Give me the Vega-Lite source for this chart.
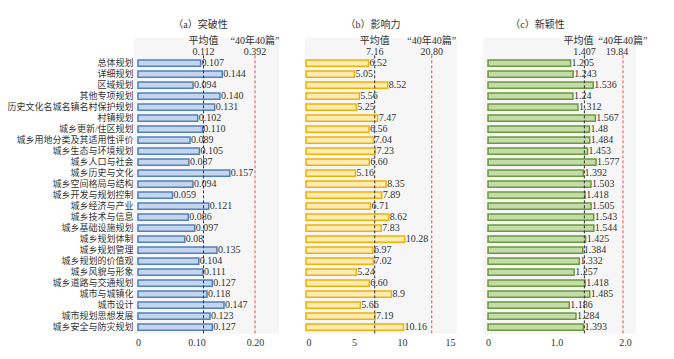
{
  "$schema": "https://vega.github.io/schema/vega-lite/v6.json",
  "background": "white",
  "padding": {"left": 6, "top": 20, "right": 5, "bottom": 5},
  "spacing": 26,
  "bounds": "flush",
  "config": {
    "view": {"stroke": null, "fill": "#f6f6f6"},
    "font": "Liberation Serif, Noto Sans CJK SC",
    "text": {"font": "Liberation Serif, Noto Sans CJK SC", "fontSize": 10, "color": "#333"},
    "axis": {"labelFont": "Liberation Serif, Noto Sans CJK SC", "labelColor": "#333", "ticks": false, "domain": false, "grid": false, "title": null, "labelOverlap": false},
    "title": {"font": "Liberation Serif, Noto Sans CJK SC", "fontSize": 10, "fontWeight": "normal", "color": "#333", "offset": 6}
  },
  "datasets": {
    "main": [
      {"cat": "总体规划", "a": 0.107, "la": "0.107", "b": 6.52, "lb": "6.52", "c": 1.205, "lc": "1.205"},
      {"cat": "详细规划", "a": 0.144, "la": "0.144", "b": 5.05, "lb": "5.05", "c": 1.243, "lc": "1.243"},
      {"cat": "区域规划", "a": 0.094, "la": "0.094", "b": 8.52, "lb": "8.52", "c": 1.536, "lc": "1.536"},
      {"cat": "其他专项规划", "a": 0.140, "la": "0.140", "b": 5.56, "lb": "5.56", "c": 1.24, "lc": "1.24"},
      {"cat": "历史文化名城名镇名村保护规划", "a": 0.131, "la": "0.131", "b": 5.25, "lb": "5.25", "c": 1.312, "lc": "1.312"},
      {"cat": "村镇规划", "a": 0.102, "la": "0.102", "b": 7.47, "lb": "7.47", "c": 1.567, "lc": "1.567"},
      {"cat": "城乡更新/住区规划", "a": 0.110, "la": "0.110", "b": 6.56, "lb": "6.56", "c": 1.48, "lc": "1.48"},
      {"cat": "城乡用地分类及其适用性评价", "a": 0.089, "la": "0.089", "b": 7.04, "lb": "7.04", "c": 1.484, "lc": "1.484"},
      {"cat": "城乡生态与环境规划", "a": 0.105, "la": "0.105", "b": 7.23, "lb": "7.23", "c": 1.453, "lc": "1.453"},
      {"cat": "城乡人口与社会", "a": 0.087, "la": "0.087", "b": 6.60, "lb": "6.60", "c": 1.577, "lc": "1.577"},
      {"cat": "城乡历史与文化", "a": 0.157, "la": "0.157", "b": 5.16, "lb": "5.16", "c": 1.392, "lc": "1.392"},
      {"cat": "城乡空间格局与结构", "a": 0.094, "la": "0.094", "b": 8.35, "lb": "8.35", "c": 1.503, "lc": "1.503"},
      {"cat": "城乡开发与规划控制", "a": 0.059, "la": "0.059", "b": 7.89, "lb": "7.89", "c": 1.418, "lc": "1.418"},
      {"cat": "城乡经济与产业", "a": 0.121, "la": "0.121", "b": 6.71, "lb": "6.71", "c": 1.505, "lc": "1.505"},
      {"cat": "城乡技术与信息", "a": 0.086, "la": "0.086", "b": 8.62, "lb": "8.62", "c": 1.543, "lc": "1.543"},
      {"cat": "城乡基础设施规划", "a": 0.097, "la": "0.097", "b": 7.83, "lb": "7.83", "c": 1.544, "lc": "1.544"},
      {"cat": "城乡规划体制", "a": 0.08, "la": "0.08", "b": 10.28, "lb": "10.28", "c": 1.425, "lc": "1.425"},
      {"cat": "城乡规划管理", "a": 0.135, "la": "0.135", "b": 6.97, "lb": "6.97", "c": 1.384, "lc": "1.384"},
      {"cat": "城乡规划的价值观", "a": 0.104, "la": "0.104", "b": 7.02, "lb": "7.02", "c": 1.332, "lc": "1.332"},
      {"cat": "城乡风貌与形象", "a": 0.111, "la": "0.111", "b": 5.24, "lb": "5.24", "c": 1.257, "lc": "1.257"},
      {"cat": "城乡道路与交通规划", "a": 0.127, "la": "0.127", "b": 6.60, "lb": "6.60", "c": 1.418, "lc": "1.418"},
      {"cat": "城市与城镇化", "a": 0.118, "la": "0.118", "b": 8.9, "lb": "8.9", "c": 1.485, "lc": "1.485"},
      {"cat": "城市设计", "a": 0.147, "la": "0.147", "b": 5.66, "lb": "5.66", "c": 1.186, "lc": "1.186"},
      {"cat": "城市规划思想发展", "a": 0.123, "la": "0.123", "b": 7.19, "lb": "7.19", "c": 1.284, "lc": "1.284"},
      {"cat": "城乡安全与防灾规划", "a": 0.127, "la": "0.127", "b": 10.16, "lb": "10.16", "c": 1.393, "lc": "1.393"}
    ],
    "refs": [
      {"panel": "a", "mean": 0.112, "meanText": "0.112", "bestText": "0.392"},
      {"panel": "b", "mean": 7.16, "meanText": "7.16", "bestText": "20.80"},
      {"panel": "c", "mean": 1.407, "meanText": "1.407", "bestText": "19.84"}
    ]
  },
  "hconcat": [
    {
      "width": 145, "height": 296,
      "title": {"text": "（a）突破性", "dx": -6},
      "layer": [
        {
          "data": {"name": "main"},
          "mark": {"type": "bar", "fill": "#c7d5ec", "stroke": "#4f81bd", "strokeWidth": 1.5},
          "encoding": {
            "y": {"field": "cat", "type": "nominal", "sort": null,
              "scale": {"domain": ["h1", "h2", "总体规划","详细规划","区域规划","其他专项规划","历史文化名城名镇名村保护规划","村镇规划","城乡更新/住区规划","城乡用地分类及其适用性评价","城乡生态与环境规划","城乡人口与社会","城乡历史与文化","城乡空间格局与结构","城乡开发与规划控制","城乡经济与产业","城乡技术与信息","城乡基础设施规划","城乡规划体制","城乡规划管理","城乡规划的价值观","城乡风貌与形象","城乡道路与交通规划","城市与城镇化","城市设计","城市规划思想发展","城乡安全与防灾规划"], "paddingInner": 0.42, "paddingOuter": 0.17, "align": 0},
              "axis": {"labelFontSize": 9, "labelPadding": 1, "labelExpr": "datum.value == 'h1' || datum.value == 'h2' ? '' : datum.value"}},
            "x": {"field": "a", "type": "quantitative",
              "scale": {"domain": [-0.0068, 0.241], "nice": false, "zero": false},
              "axis": {"values": [0, 0.05, 0.1, 0.15, 0.2], "labelFontSize": 10, "labelPadding": 3, "labelExpr": "datum.value == 0 ? '0' : format(datum.value, '.2f')"}},
            "x2": {"datum": 0}
          }
        },
        {
          "data": {"name": "main"},
          "mark": {"type": "text", "align": "left", "baseline": "middle", "dx": 1},
          "encoding": {
            "y": {"field": "cat", "type": "nominal", "sort": null},
            "x": {"field": "a", "type": "quantitative"},
            "text": {"field": "la"}
          }
        },
        {
          "data": {"name": "refs"},
          "transform": [{"filter": "datum.panel == 'a'"}],
          "layer": [
            {"mark": {"type": "rule", "color": "#333", "strokeDash": [3, 2], "strokeWidth": 1},
             "encoding": {"x": {"field": "mean", "type": "quantitative"}, "y": {"datum": "h2", "bandPosition": 1}, "y2": {"value": "height"}}},
            {"mark": {"type": "rule", "color": "#d9534f", "strokeDash": [3, 2], "strokeWidth": 1},
             "encoding": {"x": {"datum": 0.2}, "y": {"datum": "h2", "bandPosition": 1}, "y2": {"value": "height"}}},
            {"mark": {"type": "text", "text": "平均值", "baseline": "middle"},
             "encoding": {"x": {"field": "mean", "type": "quantitative"}, "y": {"datum": "h1"}}},
            {"mark": {"type": "text", "baseline": "middle"},
             "encoding": {"x": {"field": "mean", "type": "quantitative"}, "y": {"datum": "h2"}, "text": {"field": "meanText"}}},
            {"mark": {"type": "text", "text": "“40年40篇”", "baseline": "middle"},
             "encoding": {"x": {"datum": 0.2}, "y": {"datum": "h1"}}},
            {"mark": {"type": "text", "baseline": "middle"},
             "encoding": {"x": {"datum": 0.2}, "y": {"datum": "h2"}, "text": {"field": "bestText"}}}
          ]
        }
      ]
    },
    {
      "width": 152, "height": 296,
      "title": {"text": "（b）影响力", "dx": -8},
      "layer": [
        {
          "data": {"name": "main"},
          "mark": {"type": "bar", "fill": "#fdebb5", "stroke": "#f0b100", "strokeWidth": 1.5},
          "encoding": {
            "y": {"field": "cat", "type": "nominal", "sort": null,
              "scale": {"domain": ["h1", "h2", "总体规划","详细规划","区域规划","其他专项规划","历史文化名城名镇名村保护规划","村镇规划","城乡更新/住区规划","城乡用地分类及其适用性评价","城乡生态与环境规划","城乡人口与社会","城乡历史与文化","城乡空间格局与结构","城乡开发与规划控制","城乡经济与产业","城乡技术与信息","城乡基础设施规划","城乡规划体制","城乡规划管理","城乡规划的价值观","城乡风貌与形象","城乡道路与交通规划","城市与城镇化","城市设计","城市规划思想发展","城乡安全与防灾规划"], "paddingInner": 0.42, "paddingOuter": 0.17, "align": 0},
              "axis": null},
            "x": {"field": "b", "type": "quantitative",
              "scale": {"domain": [-0.1, 15.73], "nice": false, "zero": false},
              "axis": {"values": [0, 5, 10, 15], "labelFontSize": 10, "labelPadding": 3}},
            "x2": {"datum": 0}
          }
        },
        {
          "data": {"name": "main"},
          "mark": {"type": "text", "align": "left", "baseline": "middle", "dx": 1},
          "encoding": {
            "y": {"field": "cat", "type": "nominal", "sort": null},
            "x": {"field": "b", "type": "quantitative"},
            "text": {"field": "lb"}
          }
        },
        {
          "data": {"name": "refs"},
          "transform": [{"filter": "datum.panel == 'b'"}],
          "layer": [
            {"mark": {"type": "rule", "color": "#333", "strokeDash": [3, 2], "strokeWidth": 1},
             "encoding": {"x": {"field": "mean", "type": "quantitative"}, "y": {"datum": "h2", "bandPosition": 1}, "y2": {"value": "height"}}},
            {"mark": {"type": "rule", "color": "#d9534f", "strokeDash": [3, 2], "strokeWidth": 1},
             "encoding": {"x": {"datum": 13.1}, "y": {"datum": "h2", "bandPosition": 1}, "y2": {"value": "height"}}},
            {"mark": {"type": "text", "text": "平均值", "baseline": "middle"},
             "encoding": {"x": {"field": "mean", "type": "quantitative"}, "y": {"datum": "h1"}}},
            {"mark": {"type": "text", "baseline": "middle"},
             "encoding": {"x": {"field": "mean", "type": "quantitative"}, "y": {"datum": "h2"}, "text": {"field": "meanText"}}},
            {"mark": {"type": "text", "text": "“40年40篇”", "baseline": "middle"},
             "encoding": {"x": {"datum": 13.1}, "y": {"datum": "h1"}}},
            {"mark": {"type": "text", "baseline": "middle"},
             "encoding": {"x": {"datum": 13.1}, "y": {"datum": "h2"}, "text": {"field": "bestText"}}}
          ]
        }
      ]
    },
    {
      "width": 153, "height": 296,
      "title": {"text": "（c）新颖性", "dx": -22},
      "layer": [
        {
          "data": {"name": "main"},
          "mark": {"type": "bar", "fill": "#c5dcaa", "stroke": "#6a9a3a", "strokeWidth": 1.5},
          "encoding": {
            "y": {"field": "cat", "type": "nominal", "sort": null,
              "scale": {"domain": ["h1", "h2", "总体规划","详细规划","区域规划","其他专项规划","历史文化名城名镇名村保护规划","村镇规划","城乡更新/住区规划","城乡用地分类及其适用性评价","城乡生态与环境规划","城乡人口与社会","城乡历史与文化","城乡空间格局与结构","城乡开发与规划控制","城乡经济与产业","城乡技术与信息","城乡基础设施规划","城乡规划体制","城乡规划管理","城乡规划的价值观","城乡风貌与形象","城乡道路与交通规划","城市与城镇化","城市设计","城市规划思想发展","城乡安全与防灾规划"], "paddingInner": 0.42, "paddingOuter": 0.17, "align": 0},
              "axis": null},
            "x": {"field": "c", "type": "quantitative",
              "scale": {"domain": [-0.073, 2.16], "nice": false, "zero": false},
              "axis": {"values": [0, 0.5, 1, 1.5, 2], "labelFontSize": 10, "labelPadding": 3, "labelExpr": "datum.value == 0 ? '0' : format(datum.value, '.1f')"}},
            "x2": {"datum": 0}
          }
        },
        {
          "data": {"name": "main"},
          "mark": {"type": "text", "align": "left", "baseline": "middle", "dx": 1},
          "encoding": {
            "y": {"field": "cat", "type": "nominal", "sort": null},
            "x": {"field": "c", "type": "quantitative"},
            "text": {"field": "lc"}
          }
        },
        {
          "data": {"name": "refs"},
          "transform": [{"filter": "datum.panel == 'c'"}],
          "layer": [
            {"mark": {"type": "rule", "color": "#333", "strokeDash": [3, 2], "strokeWidth": 1},
             "encoding": {"x": {"field": "mean", "type": "quantitative"}, "y": {"datum": "h2", "bandPosition": 1}, "y2": {"value": "height"}}},
            {"mark": {"type": "rule", "color": "#d9534f", "strokeDash": [3, 2], "strokeWidth": 1},
             "encoding": {"x": {"datum": 1.97}, "y": {"datum": "h2", "bandPosition": 1}, "y2": {"value": "height"}}},
            {"mark": {"type": "text", "text": "平均值", "baseline": "middle", "dx": -6},
             "encoding": {"x": {"field": "mean", "type": "quantitative"}, "y": {"datum": "h1"}}},
            {"mark": {"type": "text", "baseline": "middle"},
             "encoding": {"x": {"field": "mean", "type": "quantitative"}, "y": {"datum": "h2"}, "text": {"field": "meanText"}}},
            {"mark": {"type": "text", "text": "“40年40篇”", "baseline": "middle"},
             "encoding": {"x": {"datum": 1.97}, "y": {"datum": "h1"}}},
            {"mark": {"type": "text", "baseline": "middle", "dx": -6},
             "encoding": {"x": {"datum": 1.97}, "y": {"datum": "h2"}, "text": {"field": "bestText"}}}
          ]
        }
      ]
    }
  ]
}
